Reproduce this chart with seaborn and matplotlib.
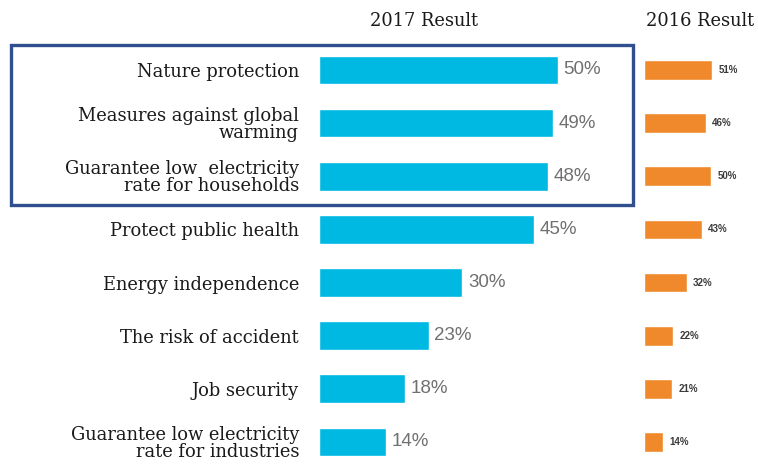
import matplotlib
matplotlib.use("Agg")
import matplotlib.pyplot as plt
import matplotlib.patches as mpatches
import seaborn as sns
import pandas as pd

categories = [
    "Nature protection",
    "Measures against global\nwarming",
    "Guarantee low  electricity\nrate for households",
    "Protect public health",
    "Energy independence",
    "The risk of accident",
    "Job security",
    "Guarantee low electricity\nrate for industries",
]
result_2017 = [50, 49, 48, 45, 30, 23, 18, 14]
result_2016 = [51, 46, 50, 43, 32, 22, 21, 14]
titles = ["2017 Result", "2016 Result"]

df = pd.DataFrame({"cat": categories, "y2017": result_2017, "y2016": result_2016})

sns.set_theme(style="white")
plt.rcParams["font.family"] = ["DejaVu Serif"]

W, H = 758, 466
fig = plt.figure(figsize=(W / 100, H / 100), dpi=100)

row0, step = 70.0, 53.14
ymax = (H - row0) / step
top_px = row0 - 0.5 * step
ax_h = (H - top_px) / H

ax1 = fig.add_axes([319 / W, 0, 60 * 4.78 / W, ax_h])
ax2 = fig.add_axes([644 / W, 0, 60 * 1.34 / W, ax_h])

blue = "#00B9E3"
orange = "#F0892B"

sns.barplot(data=df, x="y2017", y="cat", orient="h", color=blue, width=0.54,
            ax=ax1, saturation=1)
sns.barplot(data=df, x="y2016", y="cat", orient="h", color=orange, width=0.37,
            ax=ax2, saturation=1)

for ax in (ax1, ax2):
    ax.set_xlim(0, 60)
    ax.set_ylim(ymax, -0.5)
    ax.set_xlabel("")
    ax.set_ylabel("")
    ax.set_xticks([])
    for s in ax.spines.values():
        s.set_visible(False)
    ax.patch.set_alpha(0)

ax1.tick_params(axis="y", length=0, pad=14.4)
for lab in ax1.get_yticklabels():
    lab.set_fontsize(12.9)
    lab.set_color("#1a1a1a")
    lab.set_linespacing(0.92)
ax2.set_yticks([])

for i, v in enumerate(result_2017):
    ax1.annotate(f"{v}%", (v, i), xytext=(4, 0), textcoords="offset points",
                 va="center", ha="left", fontsize=13.5, color="#707070",
                 family="Liberation Sans")
for i, v in enumerate(result_2016):
    ax2.annotate(f"{v}%", (v, i), xytext=(4.5, 0), textcoords="offset points",
                 va="center", ha="left", fontsize=7, color="#3a3a3a",
                 family="Liberation Sans", fontweight="bold")

fig.text(424 / W, 1 - 21 / H, titles[0], ha="center", va="center", fontsize=12.9,
         color="#1a1a1a")
fig.text(700 / W, 1 - 21 / H, titles[1], ha="center", va="center", fontsize=12.9,
         color="#1a1a1a")

rect = mpatches.Rectangle((11 / W, 1 - 205 / H), (633 - 11) / W, (205 - 45) / H,
                          transform=fig.transFigure, fill=False,
                          edgecolor="#2F4F8F", linewidth=2.4)
fig.patches.append(rect)

fig.savefig("out.png", dpi=100)
